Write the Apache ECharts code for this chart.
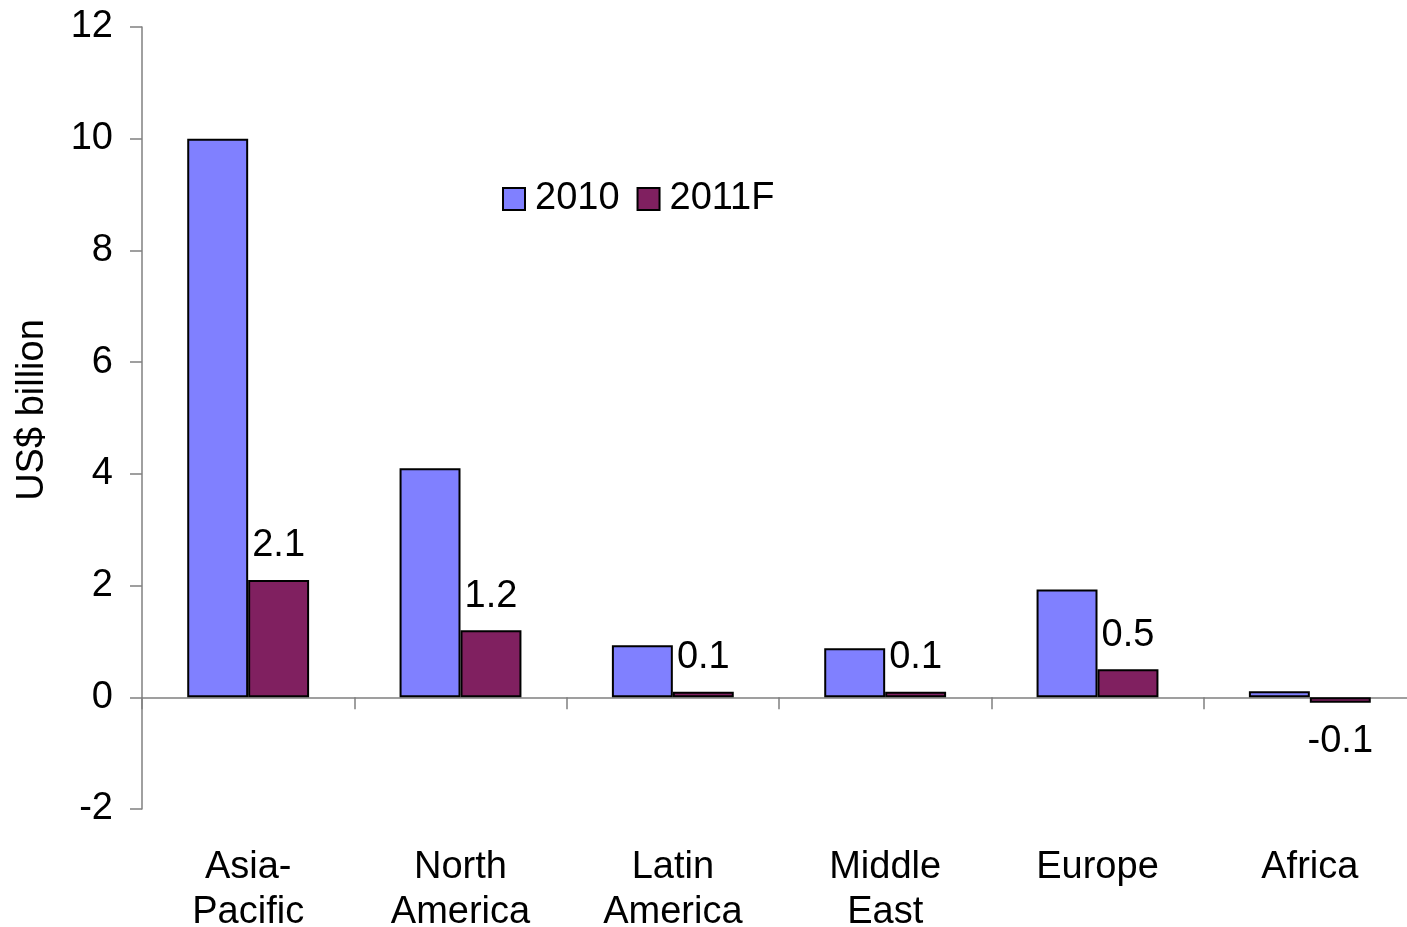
<!DOCTYPE html>
<html>
<head>
<meta charset="utf-8">
<script src="https://cdn.jsdelivr.net/npm/echarts@6/dist/echarts.min.js"></script>
<style>
  html, body { margin: 0; padding: 0; background: #fff; }
  #chart { width: 1407px; height: 927px; }
</style>
</head>
<body>
<div id="chart"></div>
<script>
// Regions and yearly values (US$ billion)
const regions = ['Asia-\nPacific', 'North\nAmerica', 'Latin\nAmerica', 'Middle\nEast', 'Europe', 'Africa'];
const values2010 = [10.0, 4.1, 0.93, 0.88, 1.93, 0.11];
const values2011F = [2.1, 1.2, 0.1, 0.1, 0.5, -0.1];
const seriesNames = ['2010', '2011F'];
const yTicks = { min: -2, max: 12, interval: 2 };

const FONT = 'Liberation Sans, Arial, sans-serif';
const AXIS_GREY = '#808080';

const chart = echarts.init(document.getElementById('chart'), null, { renderer: 'canvas' });

// Labels sit above positive bars and below negative ones
const labelled2011 = values2011F.map(v => ({
  value: v,
  label: v < 0 ? { position: 'bottom', distance: 20 } : { position: 'top' }
}));

chart.setOption({
  animation: false,
  backgroundColor: '#ffffff',
  textStyle: { fontFamily: FONT },
  grid: {
    left: 142, top: 27, right: -9, bottom: 118,
    containLabel: false,
    outerBoundsMode: 'none'
  },
  legend: {
    data: seriesNames,
    left: 502,
    top: 180,
    padding: 0,
    icon: 'rect',
    itemWidth: 22,
    itemHeight: 22,
    itemGap: 17,
    textStyle: { fontFamily: FONT, fontSize: 38, color: '#000', padding: [0, 0, 0, 5] },
    itemStyle: { borderColor: '#000', borderWidth: 2 }
  },
  xAxis: [
    {
      // zero line with category separators
      type: 'category',
      data: regions,
      position: 'bottom',
      axisLine: { onZero: true, lineStyle: { color: AXIS_GREY, width: 1.5 } },
      axisTick: { show: true, length: 12, lineStyle: { color: AXIS_GREY, width: 1.5 } },
      axisLabel: { show: false },
      splitLine: { show: false }
    },
    {
      // category names along the bottom of the plot
      type: 'category',
      data: regions,
      position: 'bottom',
      axisLine: { show: false, onZero: false },
      axisTick: { show: false },
      axisLabel: {
        show: true,
        margin: 36,
        fontFamily: FONT,
        fontSize: 38,
        lineHeight: 45,
        color: '#000',
        interval: 0
      },
      splitLine: { show: false }
    }
  ],
  yAxis: {
    type: 'value',
    min: yTicks.min,
    max: yTicks.max,
    interval: yTicks.interval,
    name: 'US$ billion',
    nameLocation: 'middle',
    nameRotate: 90,
    nameGap: 90,
    nameTextStyle: { fontFamily: FONT, fontSize: 38, color: '#000', padding: [0, 0, 0, 16] },
    axisLine: { show: true, lineStyle: { color: AXIS_GREY, width: 1.5 } },
    axisTick: { show: true, length: 12, lineStyle: { color: AXIS_GREY, width: 1.5 } },
    axisLabel: { margin: 29, fontFamily: FONT, fontSize: 38, color: '#000' },
    splitLine: { show: false }
  },
  series: [
    {
      name: seriesNames[0],
      type: 'bar',
      xAxisIndex: 0,
      data: values2010,
      barGap: '0%',
      barCategoryGap: '42.6%',
      itemStyle: { color: '#8080FF', borderColor: '#000', borderWidth: 2 }
    },
    {
      name: seriesNames[1],
      type: 'bar',
      xAxisIndex: 0,
      data: labelled2011,
      barGap: '0%',
      barCategoryGap: '42.6%',
      itemStyle: { color: '#802060', borderColor: '#000', borderWidth: 2 },
      label: {
        show: true,
        distance: 15,
        fontFamily: FONT,
        fontSize: 38,
        color: '#000',
        formatter: p => p.value.toFixed(1)
      }
    }
  ]
});
</script>
</body>
</html>
